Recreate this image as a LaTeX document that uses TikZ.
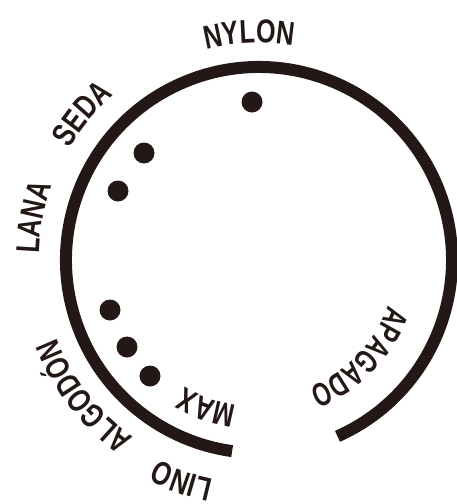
\documentclass[tikz,border=0pt]{standalone}
\usepackage{fontspec}
\newfontfamily\condfont[FakeStretch=0.76]{Liberation Sans}
\newfontfamily\narrowfont[FakeStretch=0.70]{Liberation Sans}
\usetikzlibrary{decorations.text}
\definecolor{ink}{RGB}{35,24,21}
\newcommand\labfont{\condfont\bfseries\fontsize{33}{36}\selectfont\color{ink}}
\newcommand\nlabfont{\narrowfont\bfseries\fontsize{33}{36}\selectfont\color{ink}}
\tikzset{
  dialarc/.style={draw=ink,line width=12pt,line cap=butt},
  knob/.style={circle,fill=ink,inner sep=0pt,minimum size=21pt},
}
\newcommand\arclabel[4][\labfont]{%
  \path[decorate,decoration={text along path,text={|#1|#4},text align=center}]
    (C) ++({#2+60}:#3) arc[start angle={#2+60},end angle={#2-60},radius=#3];}
\begin{document}
\begin{tikzpicture}[x=1pt,y=1pt]
\useasboundingbox (0,0) rectangle (457,-504);
\coordinate (C) at (259,-260);
\coordinate (A1) at ([shift={(-66:193)}]C);
\draw[dialarc] (A1) arc[start angle=-66,end angle=262,radius=193];
\node[knob] (d1) at (252,-102) {};
\node[knob] (d2) at (144,-153) {};
\node[knob] (d3) at (118,-191) {};
\node[knob] (d4) at (110,-310) {};
\node[knob] (d5) at (127,-347) {};
\node[knob] (d6) at (150,-376) {};
\arclabel{92.5}{217}{NYLON}
\arclabel{140.4}{220}{SEDA}
\arclabel{169.3}{220}{LANA}
\arclabel{217.8}{217}{ALGODÓN}
\arclabel{250.7}{224}{LINO}
\arclabel{250.5}{147}{MAX}
\arclabel[\nlabfont]{-44}{137}{APAGADO}
\end{tikzpicture}
\end{document}
